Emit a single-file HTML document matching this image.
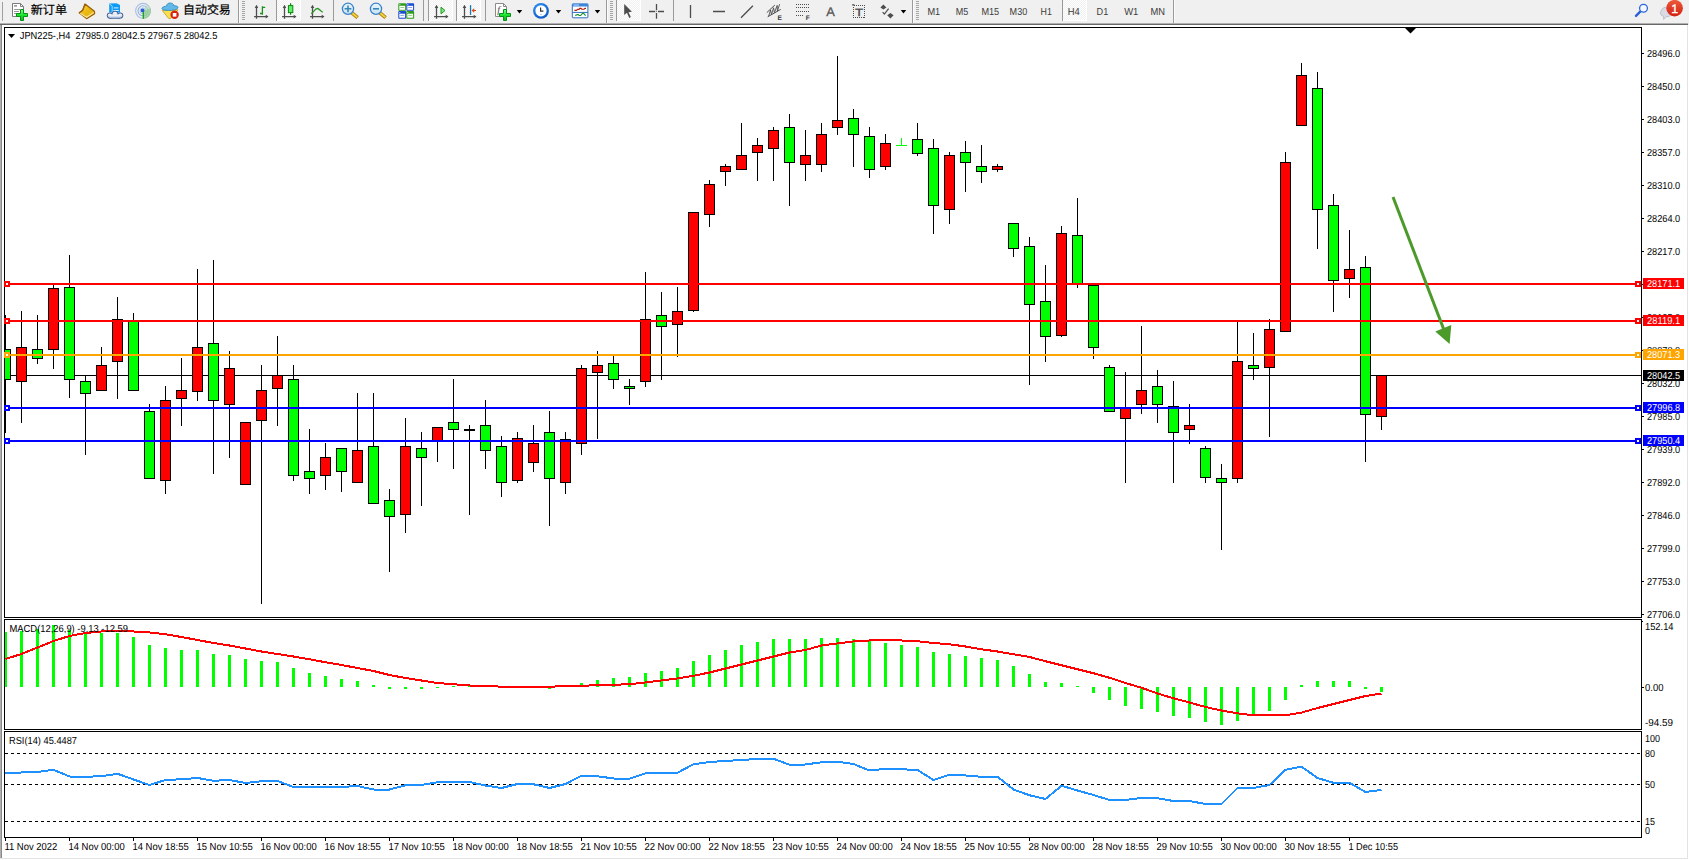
<!DOCTYPE html>
<html lang="zh-CN"><head><meta charset="utf-8"><title>JPN225-,H4</title>
<style>html,body{margin:0;padding:0;background:#f0f0f0;overflow:hidden}body{width:1689px;height:860px}svg text{white-space:pre}</style></head>
<body>
<svg width="1689" height="860" viewBox="0 0 1689 860" text-rendering="geometricPrecision" style="display:block;font-family:'Liberation Sans','Noto Sans CJK SC',sans-serif">
<rect x="0" y="0" width="1689" height="860" fill="#f0f0f0"/>
<rect x="0" y="25" width="1689" height="835" fill="#ffffff"/>
<rect x="0" y="23" width="1688" height="1" fill="#b0b0b0"/>
<rect x="0" y="24" width="1688" height="1" fill="#686868"/>
<rect x="0" y="25" width="1" height="833" fill="#b0b0b0"/>
<rect x="1" y="25" width="1" height="833" fill="#8a8a8a"/>
<rect x="1687" y="25" width="1" height="834" fill="#e3e3e3"/>
<rect x="0" y="858" width="1688" height="1" fill="#e3e3e3"/>
<g id="toolbar">
<defs><linearGradient id="gPlus" x1="0" y1="0" x2="0" y2="1"><stop offset="0" stop-color="#7dff8a"/><stop offset="0.5" stop-color="#19e52d"/><stop offset="1" stop-color="#0bb51c"/></linearGradient><linearGradient id="gGold" x1="0" y1="0" x2="1" y2="1"><stop offset="0" stop-color="#f7d93a"/><stop offset="0.6" stop-color="#e8b30c"/><stop offset="1" stop-color="#f3d265"/></linearGradient><linearGradient id="gCloud" x1="0" y1="0" x2="0" y2="1"><stop offset="0" stop-color="#ffffff"/><stop offset="1" stop-color="#b9c8e0"/></linearGradient><linearGradient id="gBadge" x1="0" y1="0" x2="0" y2="1"><stop offset="0" stop-color="#ec5a3c"/><stop offset="1" stop-color="#d3200f"/></linearGradient><radialGradient id="gClock" cx="0.4" cy="0.35" r="0.7"><stop offset="0" stop-color="#3aa0ff"/><stop offset="1" stop-color="#0a55c0"/></radialGradient><linearGradient id="gLens" x1="0" y1="0" x2="0" y2="1"><stop offset="0" stop-color="#eaf6fd"/><stop offset="1" stop-color="#c5e3f5"/></linearGradient><pattern id="chk" width="2" height="2" patternUnits="userSpaceOnUse"><rect width="2" height="2" fill="#f0f0f0"/><rect width="1" height="1" fill="#fff"/><rect x="1" y="1" width="1" height="1" fill="#fff"/></pattern></defs>
<rect x="2" y="2" width="1" height="19" fill="#a0a0a0"/>
<path d="M12.5,3.5h8l3,3v10h-11z" fill="#fff" stroke="#7d7d7d" stroke-width="1"/><path d="M20.5,3.5v3h3" fill="none" stroke="#7d7d7d"/>
<rect x="14" y="5.2" width="3" height="1.4" fill="#8a8a8a"/><rect x="14" y="9" width="6" height="1" fill="#9a9a9a"/><rect x="14" y="11" width="5" height="1" fill="#9a9a9a"/><rect x="14" y="13" width="3" height="1" fill="#9a9a9a"/>
<path d="M20.5,9.5h3v4h4v3h-4v4h-3v-4h-4v-3h4z" fill="url(#gPlus)" stroke="#0a8f14" stroke-width="1" stroke-linejoin="miter"/>
<text x="30.8" y="14.2" font-size="12" fill="#000" stroke="#000" stroke-width="0.2" textLength="36.2" lengthAdjust="spacingAndGlyphs">新订单</text>
<path d="M85,4 L94.4,11.2 L94.6,13.6 L86.6,18.6 L79.2,12.8 L82.6,10.4 Z" fill="url(#gGold)" stroke="#9c5e08" stroke-width="1.3" stroke-linejoin="round"/>
<path d="M80.2,13.2 L86.7,17.3 L93.8,12.6" fill="none" stroke="#f8e694" stroke-width="1.1"/>
<path d="M85,4 L82.6,10.4 L79.2,12.8" fill="none" stroke="#9c5e08" stroke-width="1"/>
<path d="M109.2,3.6 L116.5,3.2 L120,5 L120,12.5 L109.2,12.5 Z" fill="#0c9bf4"/><path d="M109.2,3.6 L112.2,6 V12.5" fill="none" stroke="#bfe6ff" stroke-width="0.8"/><rect x="113.8" y="7.4" width="4.6" height="1" fill="#d9f1ff"/><rect x="113.4" y="10" width="5.4" height="1" fill="#d9f1ff"/>
<g fill="#44639f"><circle cx="109.9" cy="15.6" r="3.1"/><circle cx="115" cy="14.2" r="3.5"/><circle cx="120.2" cy="15.5" r="3.1"/><rect x="109.5" y="14.5" width="11" height="4.3" rx="1"/></g>
<g fill="url(#gCloud)"><circle cx="109.9" cy="15.6" r="2.1"/><circle cx="115" cy="14.2" r="2.5"/><circle cx="120.2" cy="15.5" r="2.1"/><rect x="109.8" y="14.6" width="10.6" height="3.2"/></g>
<g fill="none"><circle cx="143" cy="10.8" r="7.4" stroke="#a9bfe6" stroke-width="1.1"/><circle cx="143" cy="10.8" r="5" stroke="#8fb0e4" stroke-width="1.1"/><circle cx="143" cy="10.8" r="2.9" stroke="#a9c4ea" stroke-width="1"/></g>
<path d="M143,10.8 L143,18.8 A8,8 0 0 0 150.6,8.2 Z" fill="#8fd08a" opacity="0.75"/>
<path d="M143,10.8 L150.6,8.2 A8,8 0 0 0 147,3.9 Z" fill="#b9dcc0" opacity="0.6"/>
<rect x="142.6" y="10.8" width="1.4" height="8" fill="#1fa51f"/><circle cx="142.6" cy="10.4" r="1.9" fill="#2a5bcf"/>
<path d="M162.2,10.4 L178,9.8 L170.4,18.7 L168.6,18.4 Z" fill="#f8e050" stroke="#c89a14" stroke-width="0.8" stroke-linejoin="round"/>
<path d="M162,8.4 C162,6.6 165.5,6.4 166.6,6 C166.8,3.6 168.5,3 170.2,3 C172,3 173.6,3.8 173.8,5.8 C175.5,5.6 178.2,6 178,7.6 C177.6,9.6 172,10.6 168.5,10.4 C165,10.4 162,9.9 162,8.4 Z" fill="#62b8e8" stroke="#2a86b8" stroke-width="0.8"/>
<circle cx="174.6" cy="14.8" r="4.2" fill="#d9230f"/><rect x="172.8" y="13" width="3.6" height="3.6" fill="#fff"/>
<text x="183" y="14.2" font-size="12" fill="#000" stroke="#000" stroke-width="0.2" textLength="47.8" lengthAdjust="spacingAndGlyphs">自动交易</text>
<rect x="238" y="0" width="1" height="23" fill="#9a9a9a"/><rect x="239" y="0" width="1" height="23" fill="#fbfbfb"/>
<rect x="242" y="1" width="3" height="1" fill="#a6a6a6"/>
<rect x="242" y="3" width="3" height="1" fill="#a6a6a6"/>
<rect x="242" y="5" width="3" height="1" fill="#a6a6a6"/>
<rect x="242" y="7" width="3" height="1" fill="#a6a6a6"/>
<rect x="242" y="9" width="3" height="1" fill="#a6a6a6"/>
<rect x="242" y="11" width="3" height="1" fill="#a6a6a6"/>
<rect x="242" y="13" width="3" height="1" fill="#a6a6a6"/>
<rect x="242" y="15" width="3" height="1" fill="#a6a6a6"/>
<rect x="242" y="17" width="3" height="1" fill="#a6a6a6"/>
<rect x="242" y="19" width="3" height="1" fill="#a6a6a6"/>
<g stroke="#4d4d4d" stroke-width="1.3" fill="none"><path d="M256.5,5.6V18.8M254.1,16.6H267.5"/></g><path d="M254.7,8 L256.5,5 L258.3,8 Z M265.7,14.8 L268.5,16.6 L265.7,18.4 Z" fill="#4d4d4d"/>
<path d="M262.4,6.3V14.8M262.4,7.4H265.2M260,13.5H262.4" stroke="#1a8f1a" stroke-width="1.3" fill="none"/>
<rect x="276" y="0" width="1" height="21" fill="#9a9a9a"/><rect x="277" y="0" width="24" height="21" fill="url(#chk)"/><rect x="277" y="20" width="24" height="1" fill="#fff"/><rect x="300" y="0" width="1" height="21" fill="#fff"/>
<g stroke="#4d4d4d" stroke-width="1.3" fill="none"><path d="M284.5,5.6V18.8M282.1,16.6H295.5"/></g><path d="M282.7,8 L284.5,5 L286.3,8 Z M293.7,14.8 L296.5,16.6 L293.7,18.4 Z" fill="#4d4d4d"/>
<rect x="290" y="3.2" width="1.2" height="11.6" fill="#0a8a0a"/><rect x="288.4" y="5.6" width="4.4" height="7" fill="#5cf06e" stroke="#0a8a0a" stroke-width="1"/>
<g stroke="#4d4d4d" stroke-width="1.3" fill="none"><path d="M312.5,5.6V18.8M310.1,16.6H323.5"/></g><path d="M310.7,8 L312.5,5 L314.3,8 Z M321.7,14.8 L324.5,16.6 L321.7,18.4 Z" fill="#4d4d4d"/>
<path d="M311.2,13.6 C313.5,12.5 315,8.4 317.3,8.5 C319.5,8.6 320.5,11.5 322.8,12.2" stroke="#2a9a2a" stroke-width="1.3" fill="none"/>
<rect x="333" y="0" width="1" height="21" fill="#9a9a9a"/>
<path d="M351.6,12.6 L357.6,17.6" stroke="#a87808" stroke-width="3.6" stroke-linecap="butt"/><path d="M351.8,12.8 L357.2,17.3" stroke="#f2d23c" stroke-width="2"/>
<circle cx="348" cy="8.8" r="5.6" fill="url(#gLens)" stroke="#3a82c8" stroke-width="1.3"/>
<path d="M344.6,8.8h6.8M348,5.4v6.8" stroke="#3b86b4" stroke-width="1.6" fill="none"/>
<path d="M379.6,12.6 L385.6,17.6" stroke="#a87808" stroke-width="3.6" stroke-linecap="butt"/><path d="M379.8,12.8 L385.2,17.3" stroke="#f2d23c" stroke-width="2"/>
<circle cx="376" cy="8.8" r="5.6" fill="url(#gLens)" stroke="#3a82c8" stroke-width="1.3"/>
<rect x="373" y="8" width="6" height="1.6" fill="#3b86b4"/>
<rect x="398.3" y="3.2" width="7.8" height="7.6" rx="0.8" fill="#2f9b1c"/><rect x="399.3" y="5.800000000000001" width="5.8" height="4" fill="#fff"/><rect x="400.3" y="7.0" width="3.8" height="1" fill="#2f9b1c" opacity="0.5"/><rect x="399.3" y="4.2" width="1" height="1" fill="#dfe"/>
<rect x="406.3" y="3.2" width="7.8" height="7.6" rx="0.8" fill="#1b4bd2"/><rect x="407.3" y="5.800000000000001" width="5.8" height="4" fill="#fff"/><rect x="408.3" y="7.0" width="3.8" height="1" fill="#1b4bd2" opacity="0.5"/><rect x="407.3" y="4.2" width="1" height="1" fill="#dfe"/>
<rect x="398.3" y="11.1" width="7.8" height="7.6" rx="0.8" fill="#1b4bd2"/><rect x="399.3" y="13.7" width="5.8" height="4" fill="#fff"/><rect x="400.3" y="14.899999999999999" width="3.8" height="1" fill="#1b4bd2" opacity="0.5"/><rect x="399.3" y="12.1" width="1" height="1" fill="#dfe"/>
<rect x="406.3" y="11.1" width="7.8" height="7.6" rx="0.8" fill="#2f9b1c"/><rect x="407.3" y="13.7" width="5.8" height="4" fill="#fff"/><rect x="408.3" y="14.899999999999999" width="3.8" height="1" fill="#2f9b1c" opacity="0.5"/><rect x="407.3" y="12.1" width="1" height="1" fill="#dfe"/>
<rect x="423" y="0" width="1" height="21" fill="#9a9a9a"/>
<rect x="428" y="0" width="1" height="21" fill="#9a9a9a"/><rect x="429" y="0" width="24" height="21" fill="url(#chk)"/><rect x="429" y="20" width="24" height="1" fill="#fff"/><rect x="452" y="0" width="1" height="21" fill="#fff"/>
<g stroke="#4d4d4d" stroke-width="1.3" fill="none"><path d="M436.5,5.6V18.8M434.1,16.6H447.5"/></g><path d="M434.7,8 L436.5,5 L438.3,8 Z M445.7,14.8 L448.5,16.6 L445.7,18.4 Z" fill="#4d4d4d"/>
<path d="M441,7.2 L445,10.5 L441,13.8 Z" fill="#7ee88a" stroke="#1a9a1a" stroke-width="1" stroke-linejoin="round"/>
<rect x="456" y="0" width="1" height="21" fill="#9a9a9a"/><rect x="457" y="0" width="24" height="21" fill="url(#chk)"/><rect x="457" y="20" width="24" height="1" fill="#fff"/><rect x="480" y="0" width="1" height="21" fill="#fff"/>
<g stroke="#4d4d4d" stroke-width="1.3" fill="none"><path d="M464.5,5.6V18.8M462.1,16.6H475.5"/></g><path d="M462.7,8 L464.5,5 L466.3,8 Z M473.7,14.8 L476.5,16.6 L473.7,18.4 Z" fill="#4d4d4d"/>
<rect x="469.9" y="5.1" width="1.3" height="9.8" fill="#1a78b0"/><path d="M471.6,10.5 L474.2,8.3 V9.9 H476 V11.1 H474.2 V12.7 Z" fill="#d84a10"/>
<rect x="485" y="0" width="1" height="21" fill="#9a9a9a"/>
<path d="M495.5,3.5h8l3,3v10h-11z" fill="#fff" stroke="#8a8a8a" stroke-width="1"/><path d="M503.5,3.5v3h3" fill="none" stroke="#8a8a8a"/>
<text x="497.3" y="13.4" font-size="10" font-style="italic" fill="#4a4030" font-family="'Liberation Serif',serif">f</text>
<path d="M503.5,9.5h3v4h4v3h-4v4h-3v-4h-4v-3h4z" fill="url(#gPlus)" stroke="#0a8f14" stroke-width="1" stroke-linejoin="miter"/>
<path d="M516.8,10 h5.4 l-2.7,3.4 z" fill="#000"/>
<circle cx="541" cy="10.8" r="7.9" fill="url(#gClock)"/><circle cx="541" cy="10.8" r="5.6" fill="#fff"/><path d="M540.6,7.4V11.2H543.4" stroke="#333" stroke-width="1.2" fill="none"/><circle cx="541" cy="14.6" r="0.6" fill="#6af"/>
<path d="M555.8,10 h5.4 l-2.7,3.4 z" fill="#000"/>
<rect x="572.3" y="4" width="15.6" height="13.8" rx="0.8" fill="#fff" stroke="#2d6fc4" stroke-width="1"/><rect x="572" y="3.7" width="16.2" height="2.8" fill="#3c86d8"/><rect x="573.5" y="4.6" width="5.5" height="0.9" fill="#cfe6ff"/><rect x="572.3" y="11.9" width="15.6" height="1" fill="#2d6fc4"/>
<path d="M574.4,10.4 H576.4 L577.6,9.4 H579 L579.8,8.4 H581 L581.8,9.2 H584 L585,8.4 H586" stroke="#b01c0c" stroke-width="1.1" fill="none"/>
<path d="M575,15.3 H576.2 L577.2,14.6 H578.2 L579.2,15.5 H580.6 L582.6,13.3 H583.6 L585.6,15.6" stroke="#18902a" stroke-width="1.1" fill="none"/>
<path d="M594.8,10 h5.4 l-2.7,3.4 z" fill="#000"/>
<rect x="606" y="0" width="1" height="23" fill="#9a9a9a"/><rect x="607" y="0" width="1" height="23" fill="#fbfbfb"/>
<rect x="610" y="1" width="3" height="1" fill="#a6a6a6"/>
<rect x="610" y="3" width="3" height="1" fill="#a6a6a6"/>
<rect x="610" y="5" width="3" height="1" fill="#a6a6a6"/>
<rect x="610" y="7" width="3" height="1" fill="#a6a6a6"/>
<rect x="610" y="9" width="3" height="1" fill="#a6a6a6"/>
<rect x="610" y="11" width="3" height="1" fill="#a6a6a6"/>
<rect x="610" y="13" width="3" height="1" fill="#a6a6a6"/>
<rect x="610" y="15" width="3" height="1" fill="#a6a6a6"/>
<rect x="610" y="17" width="3" height="1" fill="#a6a6a6"/>
<rect x="610" y="19" width="3" height="1" fill="#a6a6a6"/>
<rect x="616" y="0" width="1" height="21" fill="#9a9a9a"/><rect x="617" y="0" width="24" height="21" fill="url(#chk)"/><rect x="617" y="20" width="24" height="1" fill="#fff"/><rect x="640" y="0" width="1" height="21" fill="#fff"/>
<path d="M624.2,4 L624.2,15.1 L626.9,12.8 L629.3,17.9 L630.8,17.1 L628.5,12.2 L631.9,11.7 Z" fill="#4d4d4d"/>
<path d="M649,11.5H655.2M658,11.5H664M656.5,4V10.2M656.5,13V18.8" stroke="#4d4d4d" stroke-width="1.3" fill="none"/><rect x="656" y="11" width="1" height="1" fill="#8a8a6a"/>
<rect x="673" y="0" width="1" height="21" fill="#9a9a9a"/>
<path d="M690.5,5.1V17.9M713,11.5H725M741,17.7L752.9,5.7" stroke="#4d4d4d" stroke-width="1.3" fill="none"/>
<path d="M766.8,12.6L774.8,5.1M767.7,16.8L780.7,9.4" stroke="#4d4d4d" stroke-width="1" fill="none"/><path d="M768.6,16.2L770.6,10L771.4,14.6L773.6,7.8L774.4,12.8L777.2,5.4L777.4,11.2L779.6,4.2" stroke="#4d4d4d" stroke-width="0.9" fill="none"/>
<text x="777.6" y="19.9" font-size="6.6" font-weight="bold" fill="#3a3a3a">E</text>
<line x1="796" y1="4.5" x2="809" y2="4.5" stroke="#4d4d4d" stroke-width="1" stroke-dasharray="1 1"/>
<line x1="796" y1="7.5" x2="809" y2="7.5" stroke="#4d4d4d" stroke-width="1" stroke-dasharray="1 1"/>
<line x1="796" y1="11.5" x2="809" y2="11.5" stroke="#4d4d4d" stroke-width="1" stroke-dasharray="1 1"/>
<line x1="796" y1="15.5" x2="804" y2="15.5" stroke="#4d4d4d" stroke-width="1" stroke-dasharray="1 1"/>
<text x="805.8" y="19.6" font-size="6.6" font-weight="bold" fill="#3a3a3a">F</text>
<text x="826.2" y="16" font-size="12.4" fill="#555" stroke="#555" stroke-width="0.3" textLength="8.6" lengthAdjust="spacingAndGlyphs">A</text>
<rect x="853.5" y="5.5" width="11" height="12" fill="none" stroke="#4d4d4d" stroke-width="1" stroke-dasharray="1 1" shape-rendering="crispEdges"/><rect x="852.2" y="4.2" width="2.2" height="1.4" fill="#4d4d4d"/>
<text x="855" y="15.7" font-size="10.4" fill="#4a4a4a" stroke="#4a4a4a" stroke-width="0.3" textLength="8.2" lengthAdjust="spacingAndGlyphs">T</text>
<path d="M883.4,4.4 L886.4,7.4 L883.4,9.6 L880.4,7.4 Z M890.4,18.4 L887.2,15.2 L890.4,13 L893.6,15.2 Z" fill="#4d4d4d"/><path d="M882.6,12.2 L884.4,14 L888.6,8.6" stroke="#4d4d4d" stroke-width="1.2" fill="none"/>
<path d="M900.8,10 h5.4 l-2.7,3.4 z" fill="#000"/>
<rect x="912" y="0" width="1" height="23" fill="#9a9a9a"/><rect x="913" y="0" width="1" height="23" fill="#fbfbfb"/>
<rect x="916" y="1" width="3" height="1" fill="#a6a6a6"/>
<rect x="916" y="3" width="3" height="1" fill="#a6a6a6"/>
<rect x="916" y="5" width="3" height="1" fill="#a6a6a6"/>
<rect x="916" y="7" width="3" height="1" fill="#a6a6a6"/>
<rect x="916" y="9" width="3" height="1" fill="#a6a6a6"/>
<rect x="916" y="11" width="3" height="1" fill="#a6a6a6"/>
<rect x="916" y="13" width="3" height="1" fill="#a6a6a6"/>
<rect x="916" y="15" width="3" height="1" fill="#a6a6a6"/>
<rect x="916" y="17" width="3" height="1" fill="#a6a6a6"/>
<rect x="916" y="19" width="3" height="1" fill="#a6a6a6"/>
<rect x="1062" y="0" width="1" height="21" fill="#9a9a9a"/><rect x="1063" y="0" width="24" height="21" fill="url(#chk)"/><rect x="1063" y="20" width="24" height="1" fill="#fff"/><rect x="1086" y="0" width="1" height="21" fill="#fff"/>
<text x="927.4" y="15.1" font-size="10.2" fill="#3c3c3c" textLength="12.8" lengthAdjust="spacingAndGlyphs">M1</text>
<text x="955.7" y="15.1" font-size="10.2" fill="#3c3c3c" textLength="12.5" lengthAdjust="spacingAndGlyphs">M5</text>
<text x="981.4" y="15.1" font-size="10.2" fill="#3c3c3c" textLength="17.8" lengthAdjust="spacingAndGlyphs">M15</text>
<text x="1009.6" y="15.1" font-size="10.2" fill="#3c3c3c" textLength="17.6" lengthAdjust="spacingAndGlyphs">M30</text>
<text x="1040.6" y="15.1" font-size="10.2" fill="#3c3c3c" textLength="11.3" lengthAdjust="spacingAndGlyphs">H1</text>
<text x="1067.8" y="15.1" font-size="10.2" fill="#3c3c3c" textLength="12" lengthAdjust="spacingAndGlyphs">H4</text>
<text x="1096.6" y="15.1" font-size="10.2" fill="#3c3c3c" textLength="11.7" lengthAdjust="spacingAndGlyphs">D1</text>
<text x="1124.2" y="15.1" font-size="10.2" fill="#3c3c3c" textLength="14.2" lengthAdjust="spacingAndGlyphs">W1</text>
<text x="1150.6" y="15.1" font-size="10.2" fill="#3c3c3c" textLength="14.5" lengthAdjust="spacingAndGlyphs">MN</text>
<rect x="1173" y="0" width="1" height="23" fill="#9a9a9a"/><rect x="1174" y="0" width="1" height="23" fill="#fbfbfb"/>
<path d="M1640.2,11.6 L1636,15.9" stroke="#2a62d6" stroke-width="2.4" stroke-linecap="round"/><circle cx="1643.5" cy="8.3" r="3.9" fill="#f4f8ff" stroke="#2a66dc" stroke-width="1.3"/>
<path d="M1662,9.2 a5.6,4.6 0 0 1 9.4,0 v5.2 a5.6,4.6 0 0 1 -5.4,2.4 l-2.4,2.6 v-3 a4,4 0 0 1 -3.2,-4 z" fill="#d9dbe4" stroke="#b4b7c2" stroke-width="0.8"/>
<circle cx="1674.6" cy="8.2" r="8.3" fill="url(#gBadge)"/>
<text x="1671.2" y="13" font-size="12.4" fill="#fff" stroke="#fff" stroke-width="0.3">1</text>
</g>
<g shape-rendering="crispEdges">
<rect x="4.5" y="27.5" width="1637" height="590" fill="#fff" stroke="#000" stroke-width="1"/>
<rect x="4.5" y="619.5" width="1637" height="110" fill="#fff" stroke="#000" stroke-width="1"/>
<rect x="4.5" y="731.5" width="1637" height="106" fill="#fff" stroke="#000" stroke-width="1"/>
<rect x="1642" y="621" width="1" height="1" fill="#000"/>
<rect x="1642" y="53" width="2" height="1" fill="#000"/>
<rect x="1642" y="86" width="2" height="1" fill="#000"/>
<rect x="1642" y="119" width="2" height="1" fill="#000"/>
<rect x="1642" y="152" width="2" height="1" fill="#000"/>
<rect x="1642" y="185" width="2" height="1" fill="#000"/>
<rect x="1642" y="218" width="2" height="1" fill="#000"/>
<rect x="1642" y="251" width="2" height="1" fill="#000"/>
<rect x="1642" y="284" width="2" height="1" fill="#000"/>
<rect x="1642" y="317" width="2" height="1" fill="#000"/>
<rect x="1642" y="350" width="2" height="1" fill="#000"/>
<rect x="1642" y="383" width="2" height="1" fill="#000"/>
<rect x="1642" y="416" width="2" height="1" fill="#000"/>
<rect x="1642" y="449" width="2" height="1" fill="#000"/>
<rect x="1642" y="482" width="2" height="1" fill="#000"/>
<rect x="1642" y="515" width="2" height="1" fill="#000"/>
<rect x="1642" y="548" width="2" height="1" fill="#000"/>
<rect x="1642" y="581" width="2" height="1" fill="#000"/>
<rect x="1642" y="614" width="2" height="1" fill="#000"/>
<polygon points="1405,28 1416,28 1410.5,33.5" fill="#000" shape-rendering="auto"/>
<rect x="5" y="375" width="1636" height="1" fill="#000"/>
<rect x="5" y="315" width="1" height="118" fill="#000"/>
<rect x="0.5" y="349.5" width="10" height="30" fill="#00ff00" stroke="#000"/>
<rect x="21" y="311" width="1" height="112" fill="#000"/>
<rect x="16.5" y="347.5" width="10" height="34" fill="#ff0000" stroke="#000"/>
<rect x="37" y="315" width="1" height="49" fill="#000"/>
<rect x="32.5" y="349.5" width="10" height="9" fill="#00ff00" stroke="#000"/>
<rect x="53" y="285" width="1" height="84" fill="#000"/>
<rect x="48.5" y="288.5" width="10" height="61" fill="#ff0000" stroke="#000"/>
<rect x="69" y="255" width="1" height="143" fill="#000"/>
<rect x="64.5" y="287.5" width="10" height="92" fill="#00ff00" stroke="#000"/>
<rect x="85" y="375" width="1" height="80" fill="#000"/>
<rect x="80.5" y="381.5" width="10" height="12" fill="#00ff00" stroke="#000"/>
<rect x="101" y="347" width="1" height="44" fill="#000"/>
<rect x="96.5" y="365.5" width="10" height="25" fill="#ff0000" stroke="#000"/>
<rect x="117" y="297" width="1" height="102" fill="#000"/>
<rect x="112.5" y="319.5" width="10" height="42" fill="#ff0000" stroke="#000"/>
<rect x="133" y="313" width="1" height="78" fill="#000"/>
<rect x="128.5" y="321.5" width="10" height="69" fill="#00ff00" stroke="#000"/>
<rect x="149" y="404" width="1" height="75" fill="#000"/>
<rect x="144.5" y="411.5" width="10" height="67" fill="#00ff00" stroke="#000"/>
<rect x="165" y="386" width="1" height="108" fill="#000"/>
<rect x="160.5" y="400.5" width="10" height="80" fill="#ff0000" stroke="#000"/>
<rect x="181" y="358" width="1" height="68" fill="#000"/>
<rect x="176.5" y="390.5" width="10" height="8" fill="#ff0000" stroke="#000"/>
<rect x="197" y="269" width="1" height="132" fill="#000"/>
<rect x="192.5" y="347.5" width="10" height="44" fill="#ff0000" stroke="#000"/>
<rect x="213" y="260" width="1" height="214" fill="#000"/>
<rect x="208.5" y="343.5" width="10" height="57" fill="#00ff00" stroke="#000"/>
<rect x="229" y="351" width="1" height="107" fill="#000"/>
<rect x="224.5" y="368.5" width="10" height="36" fill="#ff0000" stroke="#000"/>
<rect x="245" y="422" width="1" height="63" fill="#000"/>
<rect x="240.5" y="422.5" width="10" height="62" fill="#ff0000" stroke="#000"/>
<rect x="261" y="365" width="1" height="239" fill="#000"/>
<rect x="256.5" y="390.5" width="10" height="30" fill="#ff0000" stroke="#000"/>
<rect x="277" y="336" width="1" height="90" fill="#000"/>
<rect x="272.5" y="375.5" width="10" height="13" fill="#ff0000" stroke="#000"/>
<rect x="293" y="365" width="1" height="116" fill="#000"/>
<rect x="288.5" y="379.5" width="10" height="96" fill="#00ff00" stroke="#000"/>
<rect x="309" y="429" width="1" height="65" fill="#000"/>
<rect x="304.5" y="471.5" width="10" height="7" fill="#00ff00" stroke="#000"/>
<rect x="325" y="443" width="1" height="47" fill="#000"/>
<rect x="320.5" y="457.5" width="10" height="18" fill="#ff0000" stroke="#000"/>
<rect x="341" y="448" width="1" height="44" fill="#000"/>
<rect x="336.5" y="448.5" width="10" height="23" fill="#00ff00" stroke="#000"/>
<rect x="357" y="393" width="1" height="90" fill="#000"/>
<rect x="352.5" y="450.5" width="10" height="32" fill="#ff0000" stroke="#000"/>
<rect x="373" y="393" width="1" height="111" fill="#000"/>
<rect x="368.5" y="446.5" width="10" height="57" fill="#00ff00" stroke="#000"/>
<rect x="389" y="489" width="1" height="83" fill="#000"/>
<rect x="384.5" y="500.5" width="10" height="16" fill="#00ff00" stroke="#000"/>
<rect x="405" y="418" width="1" height="115" fill="#000"/>
<rect x="400.5" y="446.5" width="10" height="68" fill="#ff0000" stroke="#000"/>
<rect x="421" y="432" width="1" height="74" fill="#000"/>
<rect x="416.5" y="448.5" width="10" height="9" fill="#00ff00" stroke="#000"/>
<rect x="437" y="427" width="1" height="35" fill="#000"/>
<rect x="432.5" y="427.5" width="10" height="13" fill="#ff0000" stroke="#000"/>
<rect x="453" y="379" width="1" height="90" fill="#000"/>
<rect x="448.5" y="422.5" width="10" height="7" fill="#00ff00" stroke="#000"/>
<rect x="469" y="425" width="1" height="90" fill="#000"/>
<rect x="464" y="429" width="11" height="2" fill="#000"/>
<rect x="485" y="400" width="1" height="69" fill="#000"/>
<rect x="480.5" y="425.5" width="10" height="25" fill="#00ff00" stroke="#000"/>
<rect x="501" y="436" width="1" height="61" fill="#000"/>
<rect x="496.5" y="446.5" width="10" height="36" fill="#00ff00" stroke="#000"/>
<rect x="517" y="432" width="1" height="51" fill="#000"/>
<rect x="512.5" y="438.5" width="10" height="42" fill="#ff0000" stroke="#000"/>
<rect x="533" y="425" width="1" height="47" fill="#000"/>
<rect x="528.5" y="443.5" width="10" height="19" fill="#ff0000" stroke="#000"/>
<rect x="549" y="411" width="1" height="115" fill="#000"/>
<rect x="544.5" y="432.5" width="10" height="46" fill="#00ff00" stroke="#000"/>
<rect x="565" y="432" width="1" height="62" fill="#000"/>
<rect x="560.5" y="439.5" width="10" height="43" fill="#ff0000" stroke="#000"/>
<rect x="581" y="365" width="1" height="90" fill="#000"/>
<rect x="576.5" y="368.5" width="10" height="75" fill="#ff0000" stroke="#000"/>
<rect x="597" y="351" width="1" height="88" fill="#000"/>
<rect x="592.5" y="365.5" width="10" height="7" fill="#ff0000" stroke="#000"/>
<rect x="613" y="356" width="1" height="33" fill="#000"/>
<rect x="608.5" y="363.5" width="10" height="16" fill="#00ff00" stroke="#000"/>
<rect x="629" y="379" width="1" height="26" fill="#000"/>
<rect x="624.5" y="386.5" width="10" height="2" fill="#00ff00" stroke="#000"/>
<rect x="645" y="272" width="1" height="115" fill="#000"/>
<rect x="640.5" y="319.5" width="10" height="62" fill="#ff0000" stroke="#000"/>
<rect x="661" y="292" width="1" height="88" fill="#000"/>
<rect x="656.5" y="315.5" width="10" height="11" fill="#00ff00" stroke="#000"/>
<rect x="677" y="287" width="1" height="70" fill="#000"/>
<rect x="672.5" y="311.5" width="10" height="13" fill="#ff0000" stroke="#000"/>
<rect x="693" y="212" width="1" height="100" fill="#000"/>
<rect x="688.5" y="212.5" width="10" height="98" fill="#ff0000" stroke="#000"/>
<rect x="709" y="180" width="1" height="47" fill="#000"/>
<rect x="704.5" y="184.5" width="10" height="30" fill="#ff0000" stroke="#000"/>
<rect x="725" y="164" width="1" height="22" fill="#000"/>
<rect x="720.5" y="166.5" width="10" height="5" fill="#ff0000" stroke="#000"/>
<rect x="741" y="123" width="1" height="47" fill="#000"/>
<rect x="736.5" y="155.5" width="10" height="14" fill="#ff0000" stroke="#000"/>
<rect x="757" y="138" width="1" height="43" fill="#000"/>
<rect x="752.5" y="145.5" width="10" height="7" fill="#ff0000" stroke="#000"/>
<rect x="773" y="127" width="1" height="54" fill="#000"/>
<rect x="768.5" y="130.5" width="10" height="18" fill="#ff0000" stroke="#000"/>
<rect x="789" y="114" width="1" height="92" fill="#000"/>
<rect x="784.5" y="127.5" width="10" height="35" fill="#00ff00" stroke="#000"/>
<rect x="805" y="130" width="1" height="51" fill="#000"/>
<rect x="800.5" y="155.5" width="10" height="9" fill="#ff0000" stroke="#000"/>
<rect x="821" y="123" width="1" height="49" fill="#000"/>
<rect x="816.5" y="134.5" width="10" height="30" fill="#ff0000" stroke="#000"/>
<rect x="837" y="56" width="1" height="79" fill="#000"/>
<rect x="832.5" y="120.5" width="10" height="7" fill="#ff0000" stroke="#000"/>
<rect x="853" y="109" width="1" height="58" fill="#000"/>
<rect x="848.5" y="118.5" width="10" height="16" fill="#00ff00" stroke="#000"/>
<rect x="869" y="127" width="1" height="51" fill="#000"/>
<rect x="864.5" y="136.5" width="10" height="33" fill="#00ff00" stroke="#000"/>
<rect x="885" y="134" width="1" height="36" fill="#000"/>
<rect x="880.5" y="143.5" width="10" height="23" fill="#ff0000" stroke="#000"/>
<rect x="917" y="123" width="1" height="33" fill="#000"/>
<rect x="912.5" y="139.5" width="10" height="14" fill="#00ff00" stroke="#000"/>
<rect x="933" y="139" width="1" height="95" fill="#000"/>
<rect x="928.5" y="148.5" width="10" height="57" fill="#00ff00" stroke="#000"/>
<rect x="949" y="152" width="1" height="72" fill="#000"/>
<rect x="944.5" y="155.5" width="10" height="54" fill="#ff0000" stroke="#000"/>
<rect x="965" y="141" width="1" height="51" fill="#000"/>
<rect x="960.5" y="152.5" width="10" height="10" fill="#00ff00" stroke="#000"/>
<rect x="981" y="145" width="1" height="38" fill="#000"/>
<rect x="976.5" y="166.5" width="10" height="5" fill="#00ff00" stroke="#000"/>
<rect x="997" y="164" width="1" height="8" fill="#000"/>
<rect x="992.5" y="166.5" width="10" height="3" fill="#ff0000" stroke="#000"/>
<rect x="1013" y="223" width="1" height="34" fill="#000"/>
<rect x="1008.5" y="223.5" width="10" height="25" fill="#00ff00" stroke="#000"/>
<rect x="1029" y="237" width="1" height="148" fill="#000"/>
<rect x="1024.5" y="246.5" width="10" height="58" fill="#00ff00" stroke="#000"/>
<rect x="1045" y="265" width="1" height="97" fill="#000"/>
<rect x="1040.5" y="301.5" width="10" height="35" fill="#00ff00" stroke="#000"/>
<rect x="1061" y="226" width="1" height="111" fill="#000"/>
<rect x="1056.5" y="233.5" width="10" height="102" fill="#ff0000" stroke="#000"/>
<rect x="1077" y="198" width="1" height="90" fill="#000"/>
<rect x="1072.5" y="235.5" width="10" height="48" fill="#00ff00" stroke="#000"/>
<rect x="1093" y="285" width="1" height="74" fill="#000"/>
<rect x="1088.5" y="285.5" width="10" height="62" fill="#00ff00" stroke="#000"/>
<rect x="1109" y="365" width="1" height="47" fill="#000"/>
<rect x="1104.5" y="367.5" width="10" height="44" fill="#00ff00" stroke="#000"/>
<rect x="1125" y="372" width="1" height="111" fill="#000"/>
<rect x="1120.5" y="408.5" width="10" height="10" fill="#ff0000" stroke="#000"/>
<rect x="1141" y="326" width="1" height="88" fill="#000"/>
<rect x="1136.5" y="390.5" width="10" height="14" fill="#ff0000" stroke="#000"/>
<rect x="1157" y="370" width="1" height="53" fill="#000"/>
<rect x="1152.5" y="386.5" width="10" height="18" fill="#00ff00" stroke="#000"/>
<rect x="1173" y="381" width="1" height="102" fill="#000"/>
<rect x="1168.5" y="406.5" width="10" height="26" fill="#00ff00" stroke="#000"/>
<rect x="1189" y="404" width="1" height="40" fill="#000"/>
<rect x="1184.5" y="425.5" width="10" height="4" fill="#ff0000" stroke="#000"/>
<rect x="1205" y="446" width="1" height="37" fill="#000"/>
<rect x="1200.5" y="448.5" width="10" height="29" fill="#00ff00" stroke="#000"/>
<rect x="1221" y="464" width="1" height="86" fill="#000"/>
<rect x="1216.5" y="478.5" width="10" height="4" fill="#00ff00" stroke="#000"/>
<rect x="1237" y="322" width="1" height="161" fill="#000"/>
<rect x="1232.5" y="361.5" width="10" height="117" fill="#ff0000" stroke="#000"/>
<rect x="1253" y="333" width="1" height="47" fill="#000"/>
<rect x="1248.5" y="365.5" width="10" height="3" fill="#00ff00" stroke="#000"/>
<rect x="1269" y="319" width="1" height="118" fill="#000"/>
<rect x="1264.5" y="329.5" width="10" height="38" fill="#ff0000" stroke="#000"/>
<rect x="1285" y="152" width="1" height="180" fill="#000"/>
<rect x="1280.5" y="162.5" width="10" height="169" fill="#ff0000" stroke="#000"/>
<rect x="1301" y="63" width="1" height="63" fill="#000"/>
<rect x="1296.5" y="75.5" width="10" height="50" fill="#ff0000" stroke="#000"/>
<rect x="1317" y="72" width="1" height="177" fill="#000"/>
<rect x="1312.5" y="88.5" width="10" height="121" fill="#00ff00" stroke="#000"/>
<rect x="1333" y="194" width="1" height="118" fill="#000"/>
<rect x="1328.5" y="205.5" width="10" height="75" fill="#00ff00" stroke="#000"/>
<rect x="1349" y="230" width="1" height="68" fill="#000"/>
<rect x="1344.5" y="269.5" width="10" height="9" fill="#ff0000" stroke="#000"/>
<rect x="1365" y="256" width="1" height="206" fill="#000"/>
<rect x="1360.5" y="267.5" width="10" height="147" fill="#00ff00" stroke="#000"/>
<rect x="1381" y="375" width="1" height="55" fill="#000"/>
<rect x="1376.5" y="375.5" width="10" height="41" fill="#ff0000" stroke="#000"/>
<rect x="901" y="138" width="1" height="8" fill="#00ff00"/><rect x="896" y="145" width="11" height="1" fill="#00ff00"/>
<rect x="2" y="300" width="2" height="150" fill="#fff"/><rect x="0" y="300" width="1" height="150" fill="#b0b0b0"/><rect x="1" y="300" width="1" height="150" fill="#8c8c8c"/><rect x="4" y="300" width="1" height="150" fill="#000"/>
<rect x="5" y="283" width="1636" height="2" fill="#ff0000"/>
<rect x="4" y="281" width="6" height="6" fill="#ff0000"/><rect x="6" y="283" width="2" height="2" fill="#fff"/>
<rect x="1635" y="281" width="6" height="6" fill="#ff0000"/><rect x="1637" y="283" width="2" height="2" fill="#fff"/>
<rect x="5" y="320" width="1636" height="2" fill="#ff0000"/>
<rect x="4" y="318" width="6" height="6" fill="#ff0000"/><rect x="6" y="320" width="2" height="2" fill="#fff"/>
<rect x="1635" y="318" width="6" height="6" fill="#ff0000"/><rect x="1637" y="320" width="2" height="2" fill="#fff"/>
<rect x="5" y="354" width="1636" height="2" fill="#ffa500"/>
<rect x="4" y="352" width="6" height="6" fill="#ffa500"/><rect x="6" y="354" width="2" height="2" fill="#fff"/>
<rect x="1635" y="352" width="6" height="6" fill="#ffa500"/><rect x="1637" y="354" width="2" height="2" fill="#fff"/>
<rect x="5" y="407" width="1636" height="2" fill="#0000ff"/>
<rect x="4" y="405" width="6" height="6" fill="#0000ff"/><rect x="6" y="407" width="2" height="2" fill="#fff"/>
<rect x="1635" y="405" width="6" height="6" fill="#0000ff"/><rect x="1637" y="407" width="2" height="2" fill="#fff"/>
<rect x="5" y="440" width="1636" height="2" fill="#0000ff"/>
<rect x="4" y="438" width="6" height="6" fill="#0000ff"/><rect x="6" y="440" width="2" height="2" fill="#fff"/>
<rect x="1635" y="438" width="6" height="6" fill="#0000ff"/><rect x="1637" y="440" width="2" height="2" fill="#fff"/>
</g>
<g shape-rendering="geometricPrecision"><line x1="1393" y1="197" x2="1444" y2="330" stroke="#4c9a2a" stroke-width="3"/>
<polygon points="1435.3,331.6 1451.3,324.9 1449.6,344" fill="#4c9a2a"/></g>
<text x="1647" y="57" font-size="10.2" fill="#000" textLength="33.2" lengthAdjust="spacingAndGlyphs" xml:space="preserve">28496.0</text>
<text x="1647" y="90" font-size="10.2" fill="#000" textLength="33.2" lengthAdjust="spacingAndGlyphs" xml:space="preserve">28450.0</text>
<text x="1647" y="123" font-size="10.2" fill="#000" textLength="33.2" lengthAdjust="spacingAndGlyphs" xml:space="preserve">28403.0</text>
<text x="1647" y="156" font-size="10.2" fill="#000" textLength="33.2" lengthAdjust="spacingAndGlyphs" xml:space="preserve">28357.0</text>
<text x="1647" y="189" font-size="10.2" fill="#000" textLength="33.2" lengthAdjust="spacingAndGlyphs" xml:space="preserve">28310.0</text>
<text x="1647" y="222" font-size="10.2" fill="#000" textLength="33.2" lengthAdjust="spacingAndGlyphs" xml:space="preserve">28264.0</text>
<text x="1647" y="255" font-size="10.2" fill="#000" textLength="33.2" lengthAdjust="spacingAndGlyphs" xml:space="preserve">28217.0</text>
<text x="1647" y="288" font-size="10.2" fill="#000" textLength="33.2" lengthAdjust="spacingAndGlyphs" xml:space="preserve">28171.0</text>
<text x="1647" y="321" font-size="10.2" fill="#000" textLength="33.2" lengthAdjust="spacingAndGlyphs" xml:space="preserve">28125.0</text>
<text x="1647" y="354" font-size="10.2" fill="#000" textLength="33.2" lengthAdjust="spacingAndGlyphs" xml:space="preserve">28078.0</text>
<text x="1647" y="387" font-size="10.2" fill="#000" textLength="33.2" lengthAdjust="spacingAndGlyphs" xml:space="preserve">28032.0</text>
<text x="1647" y="420" font-size="10.2" fill="#000" textLength="33.2" lengthAdjust="spacingAndGlyphs" xml:space="preserve">27985.0</text>
<text x="1647" y="453" font-size="10.2" fill="#000" textLength="33.2" lengthAdjust="spacingAndGlyphs" xml:space="preserve">27939.0</text>
<text x="1647" y="486" font-size="10.2" fill="#000" textLength="33.2" lengthAdjust="spacingAndGlyphs" xml:space="preserve">27892.0</text>
<text x="1647" y="519" font-size="10.2" fill="#000" textLength="33.2" lengthAdjust="spacingAndGlyphs" xml:space="preserve">27846.0</text>
<text x="1647" y="552" font-size="10.2" fill="#000" textLength="33.2" lengthAdjust="spacingAndGlyphs" xml:space="preserve">27799.0</text>
<text x="1647" y="585" font-size="10.2" fill="#000" textLength="33.2" lengthAdjust="spacingAndGlyphs" xml:space="preserve">27753.0</text>
<text x="1647" y="618" font-size="10.2" fill="#000" textLength="33.2" lengthAdjust="spacingAndGlyphs" xml:space="preserve">27706.0</text>
<rect x="1643" y="278" width="41" height="11" fill="#ff0000" shape-rendering="crispEdges"/>
<text x="1647" y="287" font-size="10.2" fill="#fff" textLength="33.2" lengthAdjust="spacingAndGlyphs" xml:space="preserve">28171.1</text>
<rect x="1643" y="315" width="41" height="11" fill="#ff0000" shape-rendering="crispEdges"/>
<text x="1647" y="324" font-size="10.2" fill="#fff" textLength="33.2" lengthAdjust="spacingAndGlyphs" xml:space="preserve">28119.1</text>
<rect x="1643" y="349" width="41" height="11" fill="#ffa500" shape-rendering="crispEdges"/>
<text x="1647" y="358" font-size="10.2" fill="#fff" textLength="33.2" lengthAdjust="spacingAndGlyphs" xml:space="preserve">28071.3</text>
<rect x="1643" y="370" width="41" height="11" fill="#000000" shape-rendering="crispEdges"/>
<text x="1647" y="379" font-size="10.2" fill="#fff" textLength="33.2" lengthAdjust="spacingAndGlyphs" xml:space="preserve">28042.5</text>
<rect x="1643" y="402" width="41" height="11" fill="#0000ff" shape-rendering="crispEdges"/>
<text x="1647" y="411" font-size="10.2" fill="#fff" textLength="33.2" lengthAdjust="spacingAndGlyphs" xml:space="preserve">27996.8</text>
<rect x="1643" y="435" width="41" height="11" fill="#0000ff" shape-rendering="crispEdges"/>
<text x="1647" y="444" font-size="10.2" fill="#fff" textLength="33.2" lengthAdjust="spacingAndGlyphs" xml:space="preserve">27950.4</text>
<polygon points="8,34 15,34 11.5,38" fill="#000"/>
<text x="19.8" y="39" font-size="10.2" fill="#000" textLength="197.5" lengthAdjust="spacingAndGlyphs" xml:space="preserve">JPN225-,H4  27985.0 28042.5 27967.5 28042.5</text>
<g shape-rendering="crispEdges">
<rect x="5" y="632" width="2" height="55" fill="#00ff00"/>
<rect x="20" y="631" width="3" height="56" fill="#00ff00"/>
<rect x="36" y="629" width="3" height="58" fill="#00ff00"/>
<rect x="52" y="625" width="3" height="62" fill="#00ff00"/>
<rect x="68" y="630" width="3" height="57" fill="#00ff00"/>
<rect x="84" y="633" width="3" height="54" fill="#00ff00"/>
<rect x="100" y="633" width="3" height="54" fill="#00ff00"/>
<rect x="116" y="633" width="3" height="54" fill="#00ff00"/>
<rect x="132" y="637" width="3" height="50" fill="#00ff00"/>
<rect x="148" y="645" width="3" height="42" fill="#00ff00"/>
<rect x="164" y="648" width="3" height="39" fill="#00ff00"/>
<rect x="180" y="650" width="3" height="37" fill="#00ff00"/>
<rect x="196" y="650" width="3" height="37" fill="#00ff00"/>
<rect x="212" y="654" width="3" height="33" fill="#00ff00"/>
<rect x="228" y="655" width="3" height="32" fill="#00ff00"/>
<rect x="244" y="659" width="3" height="28" fill="#00ff00"/>
<rect x="260" y="661" width="3" height="26" fill="#00ff00"/>
<rect x="276" y="662" width="3" height="25" fill="#00ff00"/>
<rect x="292" y="668" width="3" height="19" fill="#00ff00"/>
<rect x="308" y="673" width="3" height="14" fill="#00ff00"/>
<rect x="324" y="676" width="3" height="11" fill="#00ff00"/>
<rect x="340" y="679" width="3" height="8" fill="#00ff00"/>
<rect x="356" y="681" width="3" height="6" fill="#00ff00"/>
<rect x="372" y="685" width="3" height="2" fill="#00ff00"/>
<rect x="388" y="687" width="3" height="2" fill="#00ff00"/>
<rect x="404" y="687" width="3" height="2" fill="#00ff00"/>
<rect x="420" y="687" width="3" height="2" fill="#00ff00"/>
<rect x="436" y="687" width="3" height="1" fill="#00ff00"/>
<rect x="452" y="686" width="3" height="1" fill="#00ff00"/>
<rect x="468" y="686" width="3" height="1" fill="#00ff00"/>
<rect x="484" y="686" width="3" height="1" fill="#00ff00"/>
<rect x="548" y="687" width="3" height="2" fill="#00ff00"/>
<rect x="564" y="686" width="3" height="1" fill="#00ff00"/>
<rect x="580" y="683" width="3" height="4" fill="#00ff00"/>
<rect x="596" y="680" width="3" height="7" fill="#00ff00"/>
<rect x="612" y="678" width="3" height="9" fill="#00ff00"/>
<rect x="628" y="677" width="3" height="10" fill="#00ff00"/>
<rect x="644" y="673" width="3" height="14" fill="#00ff00"/>
<rect x="660" y="671" width="3" height="16" fill="#00ff00"/>
<rect x="676" y="668" width="3" height="19" fill="#00ff00"/>
<rect x="692" y="661" width="3" height="26" fill="#00ff00"/>
<rect x="708" y="655" width="3" height="32" fill="#00ff00"/>
<rect x="724" y="650" width="3" height="37" fill="#00ff00"/>
<rect x="740" y="645" width="3" height="42" fill="#00ff00"/>
<rect x="756" y="642" width="3" height="45" fill="#00ff00"/>
<rect x="772" y="639" width="3" height="48" fill="#00ff00"/>
<rect x="788" y="639" width="3" height="48" fill="#00ff00"/>
<rect x="804" y="639" width="3" height="48" fill="#00ff00"/>
<rect x="820" y="638" width="3" height="49" fill="#00ff00"/>
<rect x="836" y="638" width="3" height="49" fill="#00ff00"/>
<rect x="852" y="639" width="3" height="48" fill="#00ff00"/>
<rect x="868" y="641" width="3" height="46" fill="#00ff00"/>
<rect x="884" y="643" width="3" height="44" fill="#00ff00"/>
<rect x="900" y="645" width="3" height="42" fill="#00ff00"/>
<rect x="916" y="647" width="3" height="40" fill="#00ff00"/>
<rect x="932" y="652" width="3" height="35" fill="#00ff00"/>
<rect x="948" y="654" width="3" height="33" fill="#00ff00"/>
<rect x="964" y="656" width="3" height="31" fill="#00ff00"/>
<rect x="980" y="658" width="3" height="29" fill="#00ff00"/>
<rect x="996" y="660" width="3" height="27" fill="#00ff00"/>
<rect x="1012" y="666" width="3" height="21" fill="#00ff00"/>
<rect x="1028" y="674" width="3" height="13" fill="#00ff00"/>
<rect x="1044" y="682" width="3" height="5" fill="#00ff00"/>
<rect x="1060" y="683" width="3" height="4" fill="#00ff00"/>
<rect x="1076" y="686" width="3" height="1" fill="#00ff00"/>
<rect x="1092" y="687" width="3" height="6" fill="#00ff00"/>
<rect x="1108" y="687" width="3" height="13" fill="#00ff00"/>
<rect x="1124" y="687" width="3" height="19" fill="#00ff00"/>
<rect x="1140" y="687" width="3" height="22" fill="#00ff00"/>
<rect x="1156" y="687" width="3" height="25" fill="#00ff00"/>
<rect x="1172" y="687" width="3" height="29" fill="#00ff00"/>
<rect x="1188" y="687" width="3" height="31" fill="#00ff00"/>
<rect x="1204" y="687" width="3" height="35" fill="#00ff00"/>
<rect x="1220" y="687" width="3" height="38" fill="#00ff00"/>
<rect x="1236" y="687" width="3" height="34" fill="#00ff00"/>
<rect x="1252" y="687" width="3" height="28" fill="#00ff00"/>
<rect x="1268" y="687" width="3" height="24" fill="#00ff00"/>
<rect x="1284" y="687" width="3" height="13" fill="#00ff00"/>
<rect x="1300" y="685" width="3" height="2" fill="#00ff00"/>
<rect x="1316" y="681" width="3" height="6" fill="#00ff00"/>
<rect x="1332" y="681" width="3" height="6" fill="#00ff00"/>
<rect x="1348" y="681" width="3" height="6" fill="#00ff00"/>
<rect x="1364" y="687" width="3" height="2" fill="#00ff00"/>
<rect x="1380" y="687" width="3" height="5" fill="#00ff00"/>
<rect x="1642" y="687" width="2" height="1" fill="#000"/>
</g>
<polyline points="5.5,659 21.5,654 37.5,647.5 53.5,641 69.5,636 85.5,633 101.5,631.5 117.5,631 133.5,631.5 149.5,632.5 165.5,634.25 181.5,637 197.5,640 213.5,643 229.5,645.5 245.5,648.5 261.5,651.5 277.5,654 293.5,656.5 309.5,659.25 325.5,662.25 341.5,665 357.5,668 373.5,671 389.5,675 405.5,678 421.5,680.5 437.5,683 453.5,684.25 469.5,685.5 485.5,685.75 501.5,686.75 517.5,686.75 533.5,686.75 549.5,686.75 565.5,686 581.5,685.75 597.5,685.25 613.5,684.75 629.5,684.25 645.5,682.5 661.5,680.5 677.5,678.5 693.5,675.75 709.5,672.5 725.5,668.5 741.5,664.5 757.5,660.5 773.5,656.5 789.5,652.5 805.5,650 821.5,645.5 837.5,643.5 853.5,641.5 869.5,640.5 885.5,640 901.5,640.5 917.5,641.25 933.5,643 949.5,644.25 965.5,646.5 981.5,649.25 997.5,651.5 1013.5,654.25 1029.5,657 1045.5,661.25 1061.5,665.25 1077.5,669.25 1093.5,673.25 1109.5,677.75 1125.5,683 1141.5,687.75 1157.5,693.5 1173.5,698.25 1189.5,702.5 1205.5,707 1221.5,710.5 1237.5,713.25 1253.5,715.4 1269.5,715.5 1285.5,715.2 1301.5,712.6 1317.5,708 1333.5,704 1349.5,700 1365.5,696 1381.5,693.5" fill="none" stroke="#ff0000" stroke-width="2" stroke-linejoin="round" shape-rendering="crispEdges"/>
<text x="9.5" y="632" font-size="10.2" fill="#000" textLength="118.5" lengthAdjust="spacingAndGlyphs" xml:space="preserve">MACD(12,26,9) -9.13 -12.59</text>
<text x="1645" y="629.5" font-size="10.2" fill="#000" textLength="28.5" lengthAdjust="spacingAndGlyphs" xml:space="preserve">152.14</text>
<text x="1645" y="691" font-size="10.2" fill="#000" textLength="18.5" lengthAdjust="spacingAndGlyphs" xml:space="preserve">0.00</text>
<text x="1645" y="725.7" font-size="10.2" fill="#000" textLength="28" lengthAdjust="spacingAndGlyphs" xml:space="preserve">-94.59</text>
<g shape-rendering="crispEdges">
<line x1="5" y1="753.5" x2="1641" y2="753.5" stroke="#000" stroke-width="1" stroke-dasharray="3 3"/>
<line x1="5" y1="784.5" x2="1641" y2="784.5" stroke="#000" stroke-width="1" stroke-dasharray="3 3"/>
<line x1="5" y1="821.5" x2="1641" y2="821.5" stroke="#000" stroke-width="1" stroke-dasharray="3 3"/>
</g>
<polyline points="5.5,773 21.5,772.5 37.5,772 53.5,769.75 69.5,776.5 85.5,776.75 101.5,776.25 117.5,773.75 133.5,779.5 149.5,785 165.5,780 181.5,779.25 197.5,778 213.5,780.75 229.5,780 245.5,783 261.5,781.25 277.5,781 293.5,787 309.5,787 325.5,787 341.5,787 357.5,786 373.5,789.5 389.5,789.5 405.5,785.25 421.5,785 437.5,782.25 453.5,781.75 469.5,782 485.5,785.5 501.5,788 517.5,784 533.5,784.25 549.5,788 565.5,784 581.5,775.75 597.5,776.25 613.5,778.5 629.5,778.75 645.5,773.25 661.5,773 677.5,772.75 693.5,764.25 709.5,762 725.5,761 741.5,760 757.5,759 773.5,758.75 789.5,764.75 805.5,764.5 821.5,762.25 837.5,761.75 853.5,764 869.5,770.5 885.5,768.75 901.5,769.25 917.5,770 933.5,780 949.5,774.75 965.5,775.5 981.5,776.75 997.5,776.75 1013.5,789.5 1029.5,795.25 1045.5,799 1061.5,785.75 1077.5,790.5 1093.5,795 1109.5,800 1125.5,800 1141.5,798 1157.5,798.25 1173.5,801 1189.5,801 1205.5,804 1221.5,804 1237.5,788 1253.5,788 1269.5,785 1285.5,769.8 1301.5,766.6 1317.5,778 1333.5,782.8 1349.5,782.8 1365.5,792 1381.5,790" fill="none" stroke="#1e90ff" stroke-width="2" stroke-linejoin="round" shape-rendering="crispEdges"/>
<text x="9" y="744" font-size="10.2" fill="#000" textLength="68" lengthAdjust="spacingAndGlyphs" xml:space="preserve">RSI(14) 45.4487</text>
<text x="1645" y="741.7" font-size="10.2" fill="#000" textLength="15" lengthAdjust="spacingAndGlyphs" xml:space="preserve">100</text>
<text x="1645" y="757" font-size="10.2" fill="#000" textLength="10" lengthAdjust="spacingAndGlyphs" xml:space="preserve">80</text>
<text x="1645" y="788" font-size="10.2" fill="#000" textLength="10" lengthAdjust="spacingAndGlyphs" xml:space="preserve">50</text>
<text x="1645" y="825" font-size="10.2" fill="#000" textLength="10" lengthAdjust="spacingAndGlyphs" xml:space="preserve">15</text>
<text x="1645" y="833.5" font-size="10.2" fill="#000" textLength="5" lengthAdjust="spacingAndGlyphs" xml:space="preserve">0</text>
<rect x="5" y="838" width="1" height="3" fill="#000" shape-rendering="crispEdges"/>
<text x="4.4" y="850" font-size="10.2" fill="#000" textLength="53" lengthAdjust="spacingAndGlyphs" xml:space="preserve">11 Nov 2022</text>
<rect x="69" y="838" width="1" height="3" fill="#000" shape-rendering="crispEdges"/>
<text x="68.4" y="850" font-size="10.2" fill="#000" textLength="56.3" lengthAdjust="spacingAndGlyphs" xml:space="preserve">14 Nov 00:00</text>
<rect x="133" y="838" width="1" height="3" fill="#000" shape-rendering="crispEdges"/>
<text x="132.4" y="850" font-size="10.2" fill="#000" textLength="56.3" lengthAdjust="spacingAndGlyphs" xml:space="preserve">14 Nov 18:55</text>
<rect x="197" y="838" width="1" height="3" fill="#000" shape-rendering="crispEdges"/>
<text x="196.4" y="850" font-size="10.2" fill="#000" textLength="56.3" lengthAdjust="spacingAndGlyphs" xml:space="preserve">15 Nov 10:55</text>
<rect x="261" y="838" width="1" height="3" fill="#000" shape-rendering="crispEdges"/>
<text x="260.4" y="850" font-size="10.2" fill="#000" textLength="56.3" lengthAdjust="spacingAndGlyphs" xml:space="preserve">16 Nov 00:00</text>
<rect x="325" y="838" width="1" height="3" fill="#000" shape-rendering="crispEdges"/>
<text x="324.4" y="850" font-size="10.2" fill="#000" textLength="56.3" lengthAdjust="spacingAndGlyphs" xml:space="preserve">16 Nov 18:55</text>
<rect x="389" y="838" width="1" height="3" fill="#000" shape-rendering="crispEdges"/>
<text x="388.4" y="850" font-size="10.2" fill="#000" textLength="56.3" lengthAdjust="spacingAndGlyphs" xml:space="preserve">17 Nov 10:55</text>
<rect x="453" y="838" width="1" height="3" fill="#000" shape-rendering="crispEdges"/>
<text x="452.4" y="850" font-size="10.2" fill="#000" textLength="56.3" lengthAdjust="spacingAndGlyphs" xml:space="preserve">18 Nov 00:00</text>
<rect x="517" y="838" width="1" height="3" fill="#000" shape-rendering="crispEdges"/>
<text x="516.4" y="850" font-size="10.2" fill="#000" textLength="56.3" lengthAdjust="spacingAndGlyphs" xml:space="preserve">18 Nov 18:55</text>
<rect x="581" y="838" width="1" height="3" fill="#000" shape-rendering="crispEdges"/>
<text x="580.4" y="850" font-size="10.2" fill="#000" textLength="56.3" lengthAdjust="spacingAndGlyphs" xml:space="preserve">21 Nov 10:55</text>
<rect x="645" y="838" width="1" height="3" fill="#000" shape-rendering="crispEdges"/>
<text x="644.4" y="850" font-size="10.2" fill="#000" textLength="56.3" lengthAdjust="spacingAndGlyphs" xml:space="preserve">22 Nov 00:00</text>
<rect x="709" y="838" width="1" height="3" fill="#000" shape-rendering="crispEdges"/>
<text x="708.4" y="850" font-size="10.2" fill="#000" textLength="56.3" lengthAdjust="spacingAndGlyphs" xml:space="preserve">22 Nov 18:55</text>
<rect x="773" y="838" width="1" height="3" fill="#000" shape-rendering="crispEdges"/>
<text x="772.4" y="850" font-size="10.2" fill="#000" textLength="56.3" lengthAdjust="spacingAndGlyphs" xml:space="preserve">23 Nov 10:55</text>
<rect x="837" y="838" width="1" height="3" fill="#000" shape-rendering="crispEdges"/>
<text x="836.4" y="850" font-size="10.2" fill="#000" textLength="56.3" lengthAdjust="spacingAndGlyphs" xml:space="preserve">24 Nov 00:00</text>
<rect x="901" y="838" width="1" height="3" fill="#000" shape-rendering="crispEdges"/>
<text x="900.4" y="850" font-size="10.2" fill="#000" textLength="56.3" lengthAdjust="spacingAndGlyphs" xml:space="preserve">24 Nov 18:55</text>
<rect x="965" y="838" width="1" height="3" fill="#000" shape-rendering="crispEdges"/>
<text x="964.4" y="850" font-size="10.2" fill="#000" textLength="56.3" lengthAdjust="spacingAndGlyphs" xml:space="preserve">25 Nov 10:55</text>
<rect x="1029" y="838" width="1" height="3" fill="#000" shape-rendering="crispEdges"/>
<text x="1028.4" y="850" font-size="10.2" fill="#000" textLength="56.3" lengthAdjust="spacingAndGlyphs" xml:space="preserve">28 Nov 00:00</text>
<rect x="1093" y="838" width="1" height="3" fill="#000" shape-rendering="crispEdges"/>
<text x="1092.4" y="850" font-size="10.2" fill="#000" textLength="56.3" lengthAdjust="spacingAndGlyphs" xml:space="preserve">28 Nov 18:55</text>
<rect x="1157" y="838" width="1" height="3" fill="#000" shape-rendering="crispEdges"/>
<text x="1156.4" y="850" font-size="10.2" fill="#000" textLength="56.3" lengthAdjust="spacingAndGlyphs" xml:space="preserve">29 Nov 10:55</text>
<rect x="1221" y="838" width="1" height="3" fill="#000" shape-rendering="crispEdges"/>
<text x="1220.4" y="850" font-size="10.2" fill="#000" textLength="56.3" lengthAdjust="spacingAndGlyphs" xml:space="preserve">30 Nov 00:00</text>
<rect x="1285" y="838" width="1" height="3" fill="#000" shape-rendering="crispEdges"/>
<text x="1284.4" y="850" font-size="10.2" fill="#000" textLength="56.3" lengthAdjust="spacingAndGlyphs" xml:space="preserve">30 Nov 18:55</text>
<rect x="1349" y="838" width="1" height="3" fill="#000" shape-rendering="crispEdges"/>
<text x="1348.4" y="850" font-size="10.2" fill="#000" textLength="49.6" lengthAdjust="spacingAndGlyphs" xml:space="preserve">1 Dec 10:55</text>
</svg>
</body></html>
